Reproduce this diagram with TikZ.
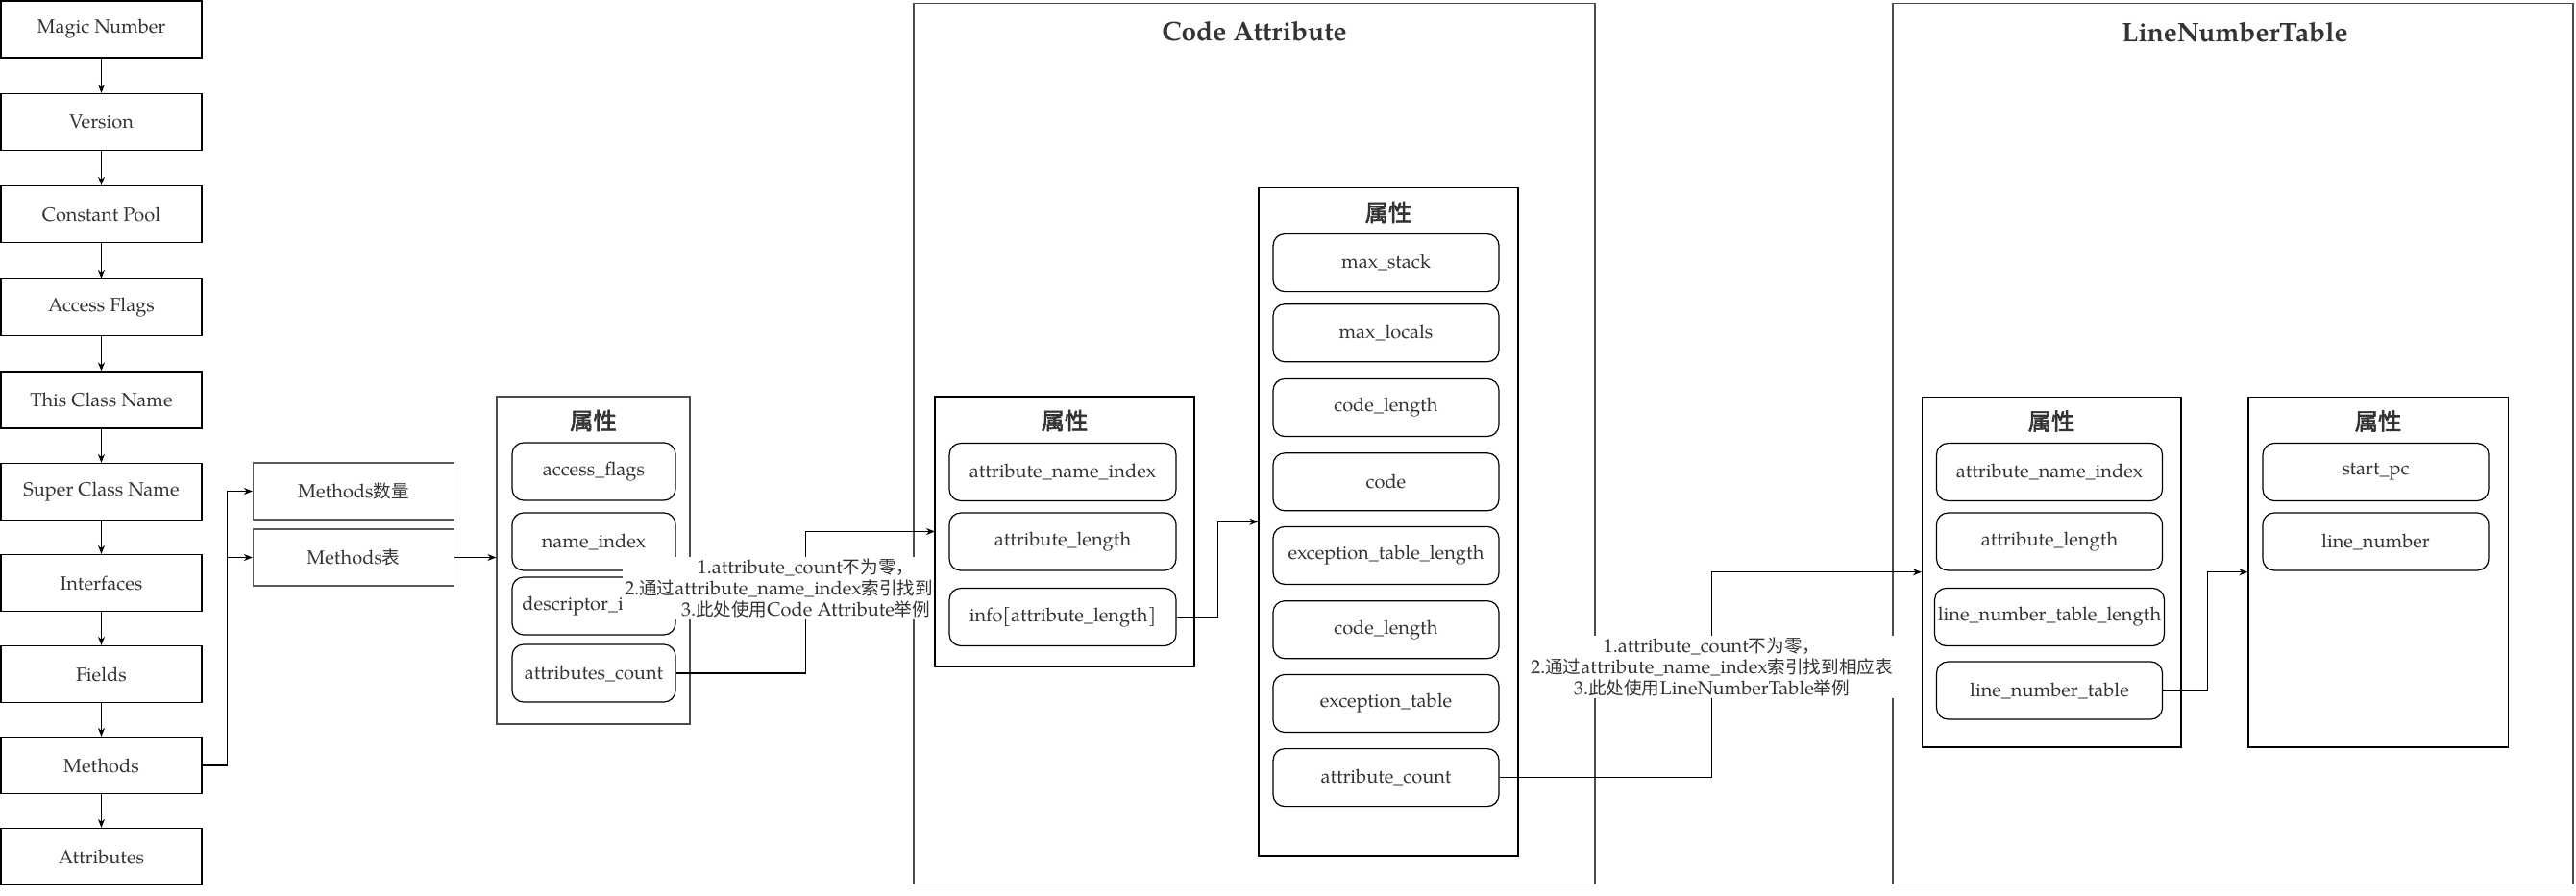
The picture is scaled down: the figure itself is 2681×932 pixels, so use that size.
\documentclass[tikz,border=0pt]{standalone}
\usepackage{fontspec}
\setmainfont{texgyrepagella}[Extension=.otf,UprightFont=*-regular,BoldFont=*-bold,ItalicFont=*-italic,BoldItalicFont=*-bolditalic]
\newfontfamily\cjk{Noto Sans CJK SC}[Scale=0.93]
\newfontfamily\cjkb{Noto Sans CJK SC}[Scale=0.9,FakeBold=2.5]
\usepackage{tikz}
\usetikzlibrary{arrows.meta}

\begin{document}
\begin{tikzpicture}[x=1pt,y=-1pt,
	every node/.style={text=black!80},
	field/.style={draw=black,line width=1.2pt,minimum width=209pt,minimum height=59pt,font=\fontsize{20}{24}\selectfont},
	item/.style={draw=black,line width=1.2pt,rounded corners=12pt,minimum width=235pt,minimum height=60pt,font=\fontsize{20}{24}\selectfont},
	panel/.style={draw=black,line width=1.2pt,fill=white},
	frame/.style={draw=black!70,line width=1.2pt},
	head/.style={font=\cjkb\fontsize{27}{27}\selectfont},
	title/.style={font=\fontsize{28}{28}\selectfont\bfseries},
	note/.style={fill=white,align=center,font=\fontsize{20}{22}\selectfont,inner sep=2pt},
	link/.style={draw=black,line width=1.2pt,-{Stealth[length=9pt,width=7pt]}}]

	\useasboundingbox (0,0) rectangle (2681,932);

	% class file layout
	\node[field] (magic)   at (105.5,30.5) {Magic Number};
	\node[field] (version) at (105.5,127)  {Version};
	\node[field] (pool)    at (105.5,223)  {Constant Pool};
	\node[field] (flags)   at (105.5,320)  {Access Flags};
	\node[field] (this)    at (105.5,416.5){This Class Name};
	\node[field] (super)   at (105.5,512)  {Super Class Name};
	\node[field] (ifaces)  at (105.5,607)  {Interfaces};
	\node[field] (fields)  at (105.5,702)  {Fields};
	\node[field] (methods) at (105.5,797)  {Methods};
	\node[field] (attrs)   at (105.5,892)  {Attributes};

	\draw[link] (magic.south)   -- (version.north);
	\draw[link] (version.south) -- (pool.north);
	\draw[link] (pool.south)    -- (flags.north);
	\draw[link] (flags.south)   -- (this.north);
	\draw[link] (this.south)    -- (super.north);
	\draw[link] (super.south)   -- (ifaces.north);
	\draw[link] (ifaces.south)  -- (fields.north);
	\draw[link] (fields.south)  -- (methods.north);
	\draw[link] (methods.south) -- (attrs.north);

	\node[field,draw=black!65] (mcount) at (368,511.5) {Methods{\cjk 数量}};
	\node[field,draw=black!65] (mtable) at (368,580.5) {Methods{\cjk 表}};

	\draw[link] (methods.east) -- ++(25.5,0) |- (mcount.west);
	\draw[link] (methods.east) -- ++(25.5,0) |- (mtable.west);

	% method_info
	\node[frame,minimum width=201pt,minimum height=341pt] (mbox) at (617.5,583.5) {};
	\node[head] (mhead) at (617.5,438) {属性};
	\node[item,minimum width=170pt] (aflags) at (618,491) {access\_flags};
	\node[item,minimum width=170pt] (nidx)   at (618,564) {name\_index};
	\node[item,minimum width=170pt] (didx)   at (618,631) {descriptor\_index};
	\node[item,minimum width=170pt] (acount) at (618,701) {attributes\_count};

	\draw[link] (mtable.east) -- (mtable.east -| mbox.west);

	% outer frames
	\node[frame,minimum width=709pt,minimum height=917pt] (codeframe) at (1305.5,462) {};
	\node[title] (codetitle) at (1305.5,33) {Code Attribute};
	\node[frame,minimum width=708pt,minimum height=917pt] (lntframe) at (2324,462) {};
	\node[title] (lnttitle) at (2326,34) {LineNumberTable};

	\coordinate (cin) at (973,553.5);
	\draw[link] (acount.east) -- ++(135,0) |- node[note,pos=0.3] (note1)
		{1.attribute\_count{\cjk 不为零，}\\2.{\cjk 通过}attribute\_name\_index{\cjk 索引找到相应表}\\3.{\cjk 此处使用}Code Attribute{\cjk 举例}} (cin);

	% Code attribute
	\node[panel,minimum width=270pt,minimum height=281pt] (cbox1) at (1108,553.5) {};
	\node[head] (chead1) at (1108,438) {属性};
	\node[item,minimum width=236pt] (aname) at (1106,491.5) {attribute\_name\_index};
	\node[item,minimum width=236pt] (alen)  at (1106,564)   {attribute\_length};
	\node[item,minimum width=236pt] (info)  at (1106,642.5) {info[attribute\_length]};

	\node[panel,minimum width=270pt,minimum height=695.5pt] (cbox2) at (1445,543.25) {};
	\node[head] (chead2) at (1445,221) {属性};
	\node[item] (mstack)  at (1442.5,273.6) {max\_stack};
	\node[item] (mlocals) at (1442.5,346.7) {max\_locals};
	\node[item] (clen)    at (1442.5,424.5) {code\_length};
	\node[item] (code)    at (1442.5,501.8) {code};
	\node[item] (etlen)   at (1442.5,578.4) {exception\_table\_length};
	\node[item] (clen2)   at (1442.5,655.7) {code\_length};
	\node[item] (etab)    at (1442.5,732.5) {exception\_table};
	\node[item] (acnt)    at (1442.5,809.6) {attribute\_count};

	\draw[link] (info.east) -- ++(43,0) |- (cbox2.west);

	% LineNumberTable
	\node[panel,minimum width=269.5pt,minimum height=364.5pt] (lbox1) at (2135.25,595.75) {};
	\node[head] (lhead1) at (2135,438.5) {属性};
	\node[item] (lname) at (2133,491.5) {attribute\_name\_index};
	\node[item] (llen)  at (2133,564)   {attribute\_length};
	\node[item] (ltlen) at (2133,642.5) {line\_number\_table\_length};
	\node[item] (ltab)  at (2133,719)   {line\_number\_table};

	\node[panel,minimum width=270.6pt,minimum height=364.5pt] (lbox2) at (2475.3,595.75) {};
	\node[head] (lhead2) at (2475,438.5) {属性};
	\node[item] (spc)   at (2472.5,491.5) {start\_pc};
	\node[item] (lnum)  at (2472.5,564)   {line\_number};

	\draw[link] (acnt.east) -- ++(221,0) |- node[note,pos=0.27] (note2)
		{1.attribute\_count{\cjk 不为零，}\\2.{\cjk 通过}attribute\_name\_index{\cjk 索引找到相应表}\\3.{\cjk 此处使用}LineNumberTable{\cjk 举例}} (lbox1.west);
	\draw[link] (ltab.east) -- ++(46,0) |- (lbox2.west);
\end{tikzpicture}
\end{document}
